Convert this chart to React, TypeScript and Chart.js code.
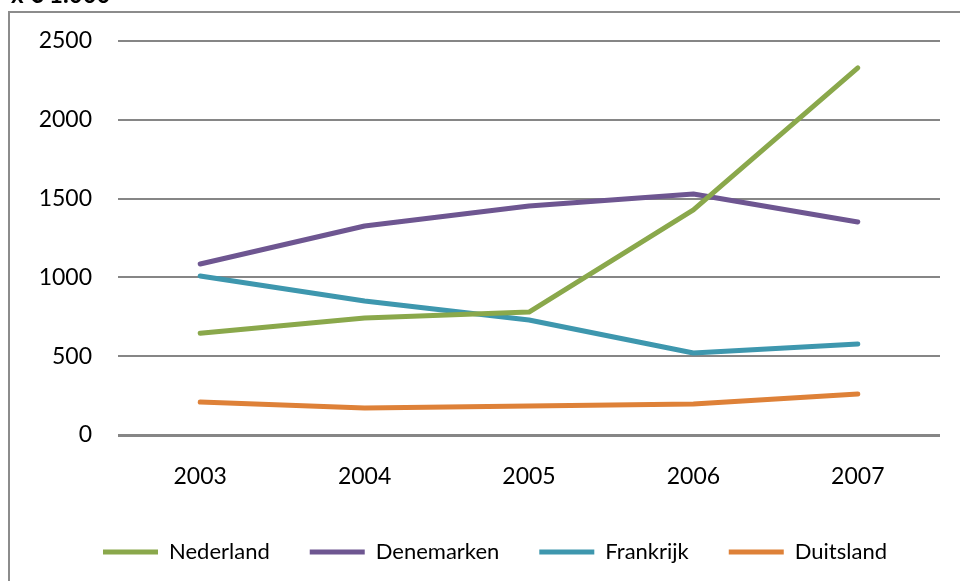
import React, { useEffect, useRef } from "react";
import { Chart, registerables } from "chart.js";

Chart.register(...registerables);

const years = ["2003", "2004", "2005", "2006", "2007"];
const nederland = [645, 742, 780, 1428, 2330];
const denemarken = [1085, 1326, 1453, 1529, 1352];
const frankrijk = [1009, 850, 730, 520, 578];
const duitsland = [209, 172, 184, 197, 260];
const seriesNames = ["Nederland", "Denemarken", "Frankrijk", "Duitsland"];
const seriesColors = ["#8aa84b", "#6e5691", "#3e97ae", "#de8138"];
const yTicks = [0, 500, 1000, 1500, 2000, 2500];
const titleText = "x € 1.000";

const FONT = "Lato, 'Open Sans', sans-serif";

const framePlugin = {
  id: "frameTitle",
  afterLayout(chart: any) {
    const lg = chart.legend;
    if (lg) {
      lg.left += 25;
      lg.right += 25;
    }
  },
  beforeDraw(chart: any) {
    const ctx = chart.ctx;
    ctx.save();
    ctx.strokeStyle = "#8c8c8c";
    ctx.lineWidth = 2;
    ctx.strokeRect(9, 12, 1000, 1000);
    ctx.fillStyle = "#000";
    ctx.font = "bold 24px " + FONT;
    ctx.textBaseline = "alphabetic";
    ctx.textAlign = "left";
    ctx.fillText(titleText, 11, 3);
    ctx.restore();
  },
};

export default function App() {
  const ref = useRef<HTMLCanvasElement | null>(null);

  useEffect(() => {
    if (!ref.current) return;
    const data = [nederland, denemarken, frankrijk, duitsland];
    const chart = new Chart(ref.current, {
      type: "line",
      data: {
        labels: years,
        datasets: seriesNames.map((name, i) => ({
          label: name,
          data: data[i],
          borderColor: seriesColors[i],
          backgroundColor: seriesColors[i],
          borderWidth: 5,
          borderCapStyle: "round" as const,
          borderJoinStyle: "round" as const,
          pointRadius: 0,
          pointHoverRadius: 0,
          tension: 0,
          fill: false,
        })),
      },
      options: {
        responsive: false,
        animation: false,
        layout: { padding: { left: 0, right: 20, top: 41, bottom: 8 } },
        plugins: {
          title: { display: false },
          tooltip: { enabled: false },
          legend: {
            position: "bottom",
            labels: {
              usePointStyle: true,
              pointStyle: "line",
              pointStyleWidth: 55,
              boxHeight: 5,
              padding: 40,
              color: "#000",
              font: { family: FONT, size: 22 },
            },
          },
        },
        scales: {
          x: {
            offset: true,
            grid: { display: false, drawTicks: false },
            border: { display: false },
            ticks: {
              color: "#000",
              padding: 28,
              font: { family: FONT, size: 23 },
            },
            afterFit(s: any) {
              s.height = 66;
            },
          },
          y: {
            min: 0,
            max: 2500,
            afterBuildTicks(s: any) {
              s.ticks = yTicks.map((v) => ({ value: v }));
            },
            grid: {
              color: "#868686",
              lineWidth: (c: any) => (c.tick && c.tick.value === 0 ? 3 : 2),
              drawTicks: false,
            },
            border: { display: false },
            ticks: {
              color: "#000",
              padding: 26,
              font: { family: FONT, size: 23 },
              callback: (v: any) => String(v),
            },
            afterFit(s: any) {
              s.width = 118;
            },
          },
        },
      },
      plugins: [framePlugin],
    });
    return () => chart.destroy();
  }, []);

  return (
    <div style={{ position: "absolute", left: 0, top: 0, width: 960, height: 581 }}>
      <canvas ref={ref} width={960} height={581} style={{ display: "block" }} />
    </div>
  );
}
